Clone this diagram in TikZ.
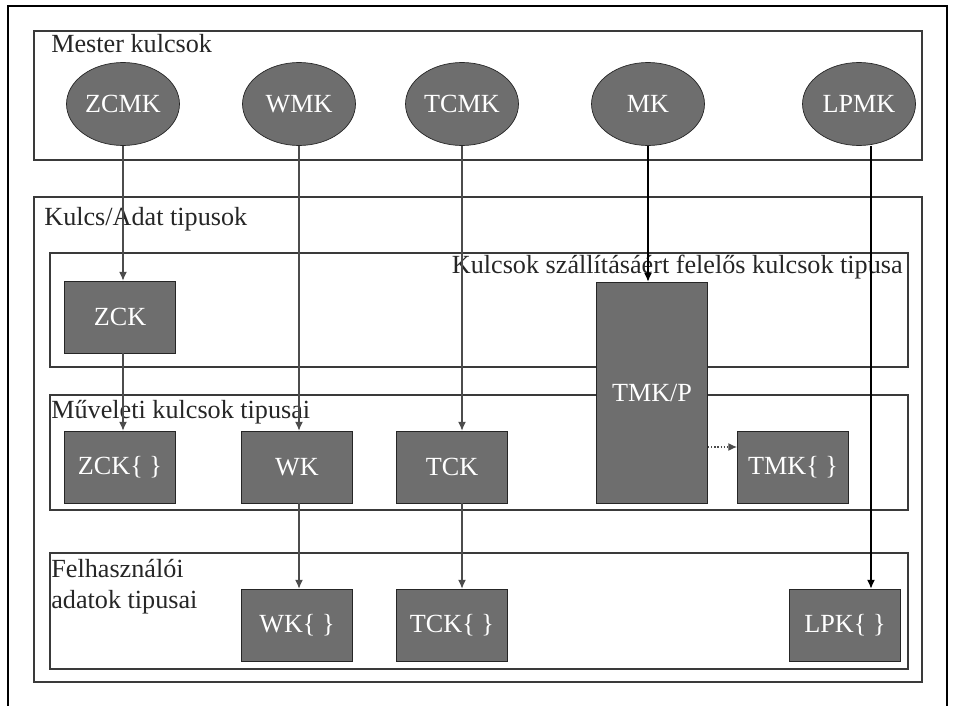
\documentclass[tikz,border=0pt]{standalone}
\usepackage{fontspec}
\setmainfont{Liberation Serif}
\usetikzlibrary{shapes.geometric,arrows.meta}
\definecolor{keygray}{HTML}{6E6E6E}
\definecolor{framegray}{HTML}{3A3A3A}

\begin{document}
\begin{tikzpicture}[x=0.02cm, y=-0.02cm, every node/.style={font=\fontsize{14.9}{17.6}\selectfont},
  keybox/.style={draw=black!85,fill=keygray,text=white,minimum width=2.22cm,minimum height=1.44cm,inner sep=0pt},
  master/.style={ellipse,draw=black!85,fill=keygray,text=white,minimum width=2.26cm,minimum height=1.66cm,inner sep=0pt},
  group/.style={draw=framegray,line width=1pt},
  grouplabel/.style={inner sep=0pt,text=black!85},
  feed/.style={-{Latex[length=5pt,width=4.5pt]},gray!60!black,line width=0.6pt},
  mainfeed/.style={-{Latex[length=5pt,width=4.5pt]},black,line width=0.7pt},
  dotfeed/.style={-{Latex[length=5pt,width=4.5pt]},gray!60!black,line width=0.8pt,densely dotted}]
\useasboundingbox (0,0) rectangle (953,706);
\draw[black,line width=0.6pt] (8,706) -- (8,6) -- (947,6) -- (947,706);

\draw[group] (34,31) rectangle (922,160);
\draw[group] (34,197) rectangle (922,682);
\draw[group] (50,253) rectangle (908,367);
\draw[group] (50,395) rectangle (908,510);
\draw[group] (50,553) rectangle (908,669);

\node[grouplabel,anchor=base west] (lblmaster) at (51,53) {Mester kulcsok};
\node[grouplabel,anchor=base west] (lbltypes) at (44,225) {Kulcs/Adat tipusok};
\node[grouplabel,anchor=base east] (lbltransport) at (903,273) {Kulcsok szállításáért felelős kulcsok tipusa};
\node[grouplabel,anchor=base west] (lblops) at (51,418) {Műveleti kulcsok tipusai};
\node[grouplabel,anchor=north west,align=left] (lbluser) at (51,559) {Felhasználói\\adatok tipusai};

\node[master] (zcmk) at (123,104) {ZCMK};
\node[master] (wmk) at (299,104) {WMK};
\node[master] (tcmk) at (462,104) {TCMK};
\node[master] (mk) at (648,104) {MK};
\node[master] (lpmk) at (859,104) {LPMK};

\node[keybox] (zck) at (120,317) {ZCK};
\node[keybox] (zckset) at (120,467) {ZCK\{ \}};
\node[keybox] (wk) at (297,467) {WK};
\node[keybox] (tck) at (452,467) {TCK};
\node[keybox,minimum height=4.42cm] (tmkp) at (652,392.5) {TMK/P};
\node[keybox] (tmkset) at (793,467) {TMK\{ \}};
\node[keybox] (wkset) at (297,625) {WK\{ \}};
\node[keybox] (tckset) at (452,625) {TCK\{ \}};
\node[keybox] (lpkset) at (845,625) {LPK\{ \}};

\draw[feed] (zcmk.south) -- (zcmk.south |- zck.north);
\draw[feed] (zck.south -| zcmk.south) -- (zcmk.south |- zckset.north);
\draw[feed] (wmk.south) -- (wmk.south |- wk.north);
\draw[feed] (wk.south -| wmk.south) -- (wmk.south |- wkset.north);
\draw[feed] (tcmk.south) -- (tcmk.south |- tck.north);
\draw[feed] (tck.south -| tcmk.south) -- (tcmk.south |- tckset.north);
\draw[mainfeed] (mk.south) -- (mk.south |- tmkp.north);
\draw[mainfeed] ([xshift=0.24cm]lpmk.south) -- ([xshift=0.24cm]lpmk.south |- lpkset.north);
\draw[dotfeed] (tmkp.east |- 0,447) -- (tmkset.west |- 0,447);
\end{tikzpicture}
\end{document}
